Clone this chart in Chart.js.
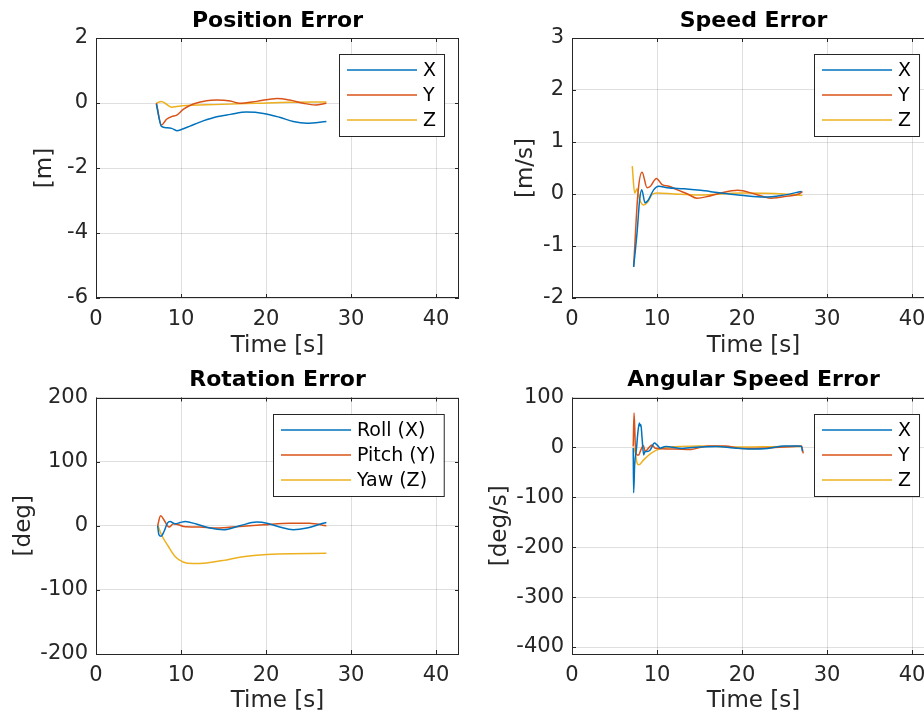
<!DOCTYPE html>
<html>
<head>
<meta charset="utf-8">
<title>Error plots</title>
<script src="https://cdn.jsdelivr.net/npm/chart.js@4.4.1/dist/chart.umd.min.js"></script>
<style>
  html, body { margin: 0; padding: 0; background: #fff; overflow: hidden; }
  #wrap { position: relative; width: 924px; height: 718px; overflow: hidden; }
  canvas { position: absolute; }
</style>
</head>
<body>
<div id="wrap">
  <canvas id="posChart" width="470" height="362" style="left:0;top:0"></canvas>
  <canvas id="spdChart" width="480" height="362" style="left:470px;top:0"></canvas>
  <canvas id="rotChart" width="470" height="358" style="left:0;top:360px"></canvas>
  <canvas id="angChart" width="480" height="358" style="left:470px;top:360px"></canvas>
</div>
<script>
// Series colours (MATLAB default order)
const colX = "#0072BD";
const colY = "#D95319";
const colZ = "#EDB120";

// Position Error [m]
const posT_X = [7.1, 7.7, 8.3, 8.9, 9.5, 10.1, 11.05, 12.6, 14.2, 15.8, 17.7, 19.7, 21.6, 23.2, 24.8, 27.1];
const posX   = [-0.03, -0.72, -0.76, -0.78, -0.85, -0.81, -0.71, -0.55, -0.42, -0.35, -0.28, -0.32, -0.44, -0.57, -0.62, -0.57];
const posT_Y = [7.1, 7.7, 8.3, 8.9, 9.5, 10.3, 11.45, 13.0, 14.2, 15.8, 16.9, 18.9, 21.3, 22.8, 24.4, 25.8, 27.1];
const posY   = [0.0, -0.68, -0.50, -0.42, -0.37, -0.19, -0.03, 0.07, 0.09, 0.06, -0.01, 0.05, 0.14, 0.09, -0.01, -0.06, -0.01];
const posT_Z = [7.1, 7.7, 8.25, 8.9, 9.5, 10.7, 13.9, 18.9, 22.8, 27.1];
const posZ   = [0.0, 0.05, -0.03, -0.13, -0.11, -0.08, -0.05, -0.01, 0.02, 0.03];

// Speed Error [m/s]
const spdT_X = [7.25, 7.65, 7.96, 8.2, 8.6, 9.0, 9.6, 10.2, 11.2, 13.2, 15.1, 17.1, 20.2, 22.6, 24.6, 27.0];
const spdX   = [-1.40, -0.75, -0.11, 0.08, -0.17, -0.11, 0.08, 0.15, 0.12, 0.10, 0.07, 0.03, -0.03, -0.06, -0.03, 0.05];
const spdT_Y = [7.25, 7.76, 8.24, 8.83, 9.22, 9.93, 10.6, 11.4, 12.4, 13.6, 14.7, 15.9, 17.5, 19.5, 21.5, 23.4, 25.0, 27.0, 27.1];
const spdY   = [-1.40, 0.02, 0.42, 0.12, 0.15, 0.30, 0.18, 0.15, 0.08, 0.0, -0.08, -0.05, 0.02, 0.07, 0.0, -0.08, -0.05, 0.03, 0.05];
const spdT_Z = [7.09, 7.37, 7.65, 7.96, 8.43, 8.83, 9.42, 10.0, 12.0, 15.0, 20.0, 25.0, 27.1];
const spdZ   = [0.535, 0.02, 0.10, -0.11, -0.21, -0.17, -0.01, 0.02, 0.0, -0.02, 0.02, 0.0, -0.03];

// Rotation Error [deg]
const rotT_X = [7.25, 7.4, 7.65, 8.0, 8.4, 8.7, 9.3, 9.9, 10.5, 11.8, 13.4, 15.0, 16.9, 18.9, 20.1, 21.6, 23.2, 24.8, 26.4, 27.1];
const rotX   = [0, -14, -16.5, -9, 4, 6.7, 3, 5, 6.7, 2.6, -3.6, -6.2, 0, 5.7, 4, -2, -6.2, -3.6, 2.6, 5];
const rotT_Y = [7.25, 7.6, 8.0, 8.4, 8.6, 9.1, 9.7, 10.3, 12.2, 14.2, 16.9, 19.7, 22.8, 25.1, 27.1];
const rotY   = [0, 15.5, 9, 0, -2, 3, 1.5, -1, -2, -3.6, -1, 1.5, 4, 4, 0];
const rotT_Z = [7.25, 7.7, 8.5, 9.3, 10.3, 11.4, 13.0, 15.0, 16.9, 18.9, 21.3, 27.1];
const rotZ   = [1.5, -14, -32, -48, -57, -59, -58, -54, -49, -46, -44, -43];

// Angular Speed Error [deg/s]
const angT_X = [7.2, 7.25, 7.37, 7.6, 7.72, 7.92, 8.0, 8.1, 8.24, 8.43, 8.6, 8.83, 9.2, 9.7, 10.0, 10.4, 11.0, 13, 15, 17, 19, 21, 23, 25, 26.5, 27.0, 27.1];
const angX   = [-1, -91, -35, 0, 25, 49, 43, 46, 19, -15, -8, -8, -5, 9, 5, -1.5, 2, -2, 1, 2, -1, -3, -2, 3, 3, 2, -8];
const angT_Y = [7.2, 7.3, 7.45, 7.65, 7.85, 8.1, 8.4, 8.6, 9.0, 9.4, 9.8, 12, 14, 16, 18, 20, 23, 26, 27.0, 27.2];
const angY   = [2, 69, 5, -15, -15, -5, 4, -8, -1.5, 5, -1.5, -3, -4, 3, 3, -2, -1, 2, 3, -12];
const angT_Z = [7.25, 7.4, 7.65, 7.85, 8.43, 9.2, 10.0, 11.2, 15, 20, 25, 27.0];
const angZ   = [0, -8, -31, -35, -25, -13, -5, 0, 3, 1, 2, 2];

const FONT = "'DejaVu Sans', sans-serif";
const INK = "#262626";

// draws the full axes box with inward tick marks (MATLAB look)
const boxPlugin = {
  id: "matlabBox",
  afterDatasetsDraw(chart) {
    const { ctx, chartArea: a, scales } = chart;
    ctx.save();
    ctx.strokeStyle = INK;
    ctx.lineWidth = 1;
    ctx.strokeRect(Math.round(a.left) + 0.5, Math.round(a.top) + 0.5,
                   Math.round(a.right - a.left) - 1, Math.round(a.bottom - a.top) - 1);
    ctx.beginPath();
    scales.x.ticks.forEach(t => {
      const px = Math.round(scales.x.getPixelForValue(t.value)) + 0.5;
      ctx.moveTo(px, a.bottom); ctx.lineTo(px, a.bottom - 4);
      ctx.moveTo(px, a.top); ctx.lineTo(px, a.top + 4);
    });
    scales.y.ticks.forEach(t => {
      const py = Math.round(scales.y.getPixelForValue(t.value)) + 0.5;
      ctx.moveTo(a.left, py); ctx.lineTo(a.left + 4, py);
      ctx.moveTo(a.right, py); ctx.lineTo(a.right - 4, py);
    });
    ctx.stroke();
    ctx.restore();
  }
};

// bold title centred over the axes, not the whole canvas
const axTitlePlugin = {
  id: "axTitle",
  afterDraw(chart) {
    const { ctx, chartArea: a } = chart;
    const opt = chart.options.plugins.axTitle;
    ctx.save();
    ctx.font = "bold 22px " + FONT;
    ctx.fillStyle = "#000";
    ctx.textAlign = "center";
    ctx.textBaseline = "middle";
    ctx.fillText(opt.text, (a.left + a.right) / 2, opt.y);
    ctx.restore();
  }
};

// legend box inside the axes, top right
const legendPlugin = {
  id: "boxLegend",
  afterDraw(chart) {
    const { ctx, chartArea: a } = chart;
    const opt = chart.options.plugins.boxLegend;
    const sets = chart.data.datasets;
    ctx.save();
    ctx.font = "19px " + FONT;
    const textW = Math.max(...sets.map(d => ctx.measureText(d.label).width));
    const lineLen = 70, pad = 8, gap = 6, rowH = 25;
    const w = pad + lineLen + gap + textW + pad;
    const h = 16 * 2 + rowH * (sets.length - 1);
    const x0 = Math.round(a.right - opt.right - w);
    const y0 = Math.round(a.top + opt.top);
    ctx.fillStyle = "#fff";
    ctx.fillRect(x0, y0, w, h);
    ctx.strokeStyle = INK;
    ctx.lineWidth = 1;
    ctx.strokeRect(x0 + 0.5, y0 + 0.5, w, h);
    sets.forEach((d, i) => {
      const cy = y0 + 16 + i * rowH;
      ctx.strokeStyle = d.borderColor;
      ctx.lineWidth = 1.5;
      ctx.beginPath();
      ctx.moveTo(x0 + pad, cy);
      ctx.lineTo(x0 + pad + lineLen, cy);
      ctx.stroke();
      ctx.fillStyle = "#000";
      ctx.textBaseline = "middle";
      ctx.fillText(d.label, x0 + pad + lineLen + gap, cy + 1);
    });
    ctx.restore();
  }
};

function series(label, ts, vs, color) {
  return {
    label: label,
    data: ts.map((t, i) => ({ x: t, y: vs[i] })),
    borderColor: color,
    borderWidth: 1.5,
    pointRadius: 0,
    fill: false,
    cubicInterpolationMode: "monotone"
  };
}

function makePanel(id, cfg) {
  return new Chart(document.getElementById(id), {
    type: "line",
    data: { datasets: cfg.datasets },
    plugins: [boxPlugin, axTitlePlugin, legendPlugin],
    options: {
      responsive: false,
      animation: false,
      devicePixelRatio: 1,
      layout: { padding: { left: cfg.padLeft, right: cfg.padRight, top: cfg.padTop, bottom: 0 } },
      plugins: {
        legend: { display: false },
        tooltip: { enabled: false },
        title: { display: false },
        axTitle: { text: cfg.title, y: cfg.titleY },
        boxLegend: { right: cfg.legRight, top: 16 }
      },
      scales: {
        x: {
          type: "linear",
          min: 0,
          max: 42.7,
          afterFit: s => { s.height = cfg.xHeight; },
          ticks: {
            stepSize: 10,
            includeBounds: false,
            color: INK,
            padding: 9,
            maxRotation: 0,
            font: { family: FONT, size: 21 }
          },
          grid: { color: "rgba(38,38,38,0.15)", drawTicks: false },
          border: { display: false },
          title: {
            display: true,
            text: "Time [s]",
            color: INK,
            padding: { top: 0, bottom: cfg.xTitleBottom },
            font: { family: FONT, size: 23, lineHeight: 1.2 }
          }
        },
        y: {
          type: "linear",
          min: cfg.yMin,
          max: cfg.yMax,
          afterFit: s => { s.width = cfg.yWidth; },
          ticks: {
            stepSize: cfg.yStep,
            includeBounds: false,
            color: INK,
            padding: 8,
            font: { family: FONT, size: 21 }
          },
          grid: { color: "rgba(38,38,38,0.15)", drawTicks: false },
          border: { display: false },
          title: {
            display: true,
            text: cfg.yLabel,
            color: INK,
            padding: { top: 0, bottom: 0 },
            font: { family: FONT, size: 23, lineHeight: 1.2 }
          }
        }
      }
    }
  });
}

makePanel("posChart", {
  title: "Position Error", yLabel: "[m]",
  yMin: -6, yMax: 2, yStep: 2,
  padLeft: 31, yWidth: 65, padRight: 11, padTop: 38,
  titleY: 21, xHeight: 64, xTitleBottom: 2, legRight: 15,
  datasets: [series("X", posT_X, posX, colX), series("Y", posT_Y, posY, colY), series("Z", posT_Z, posZ, colZ)]
});

makePanel("spdChart", {
  title: "Speed Error", yLabel: "[m/s]",
  yMin: -2, yMax: 3, yStep: 1,
  padLeft: 42, yWidth: 60, padRight: 15, padTop: 38,
  titleY: 21, xHeight: 64, xTitleBottom: 2, legRight: 16,
  datasets: [series("X", spdT_X, spdX, colX), series("Y", spdT_Y, spdY, colY), series("Z", spdT_Z, spdZ, colZ)]
});

makePanel("rotChart", {
  title: "Rotation Error", yLabel: "[deg]",
  yMin: -200, yMax: 200, yStep: 100,
  padLeft: 10, yWidth: 86, padRight: 11, padTop: 37.5,
  titleY: 20, xHeight: 64, xTitleBottom: 3, legRight: 15,
  datasets: [series("Roll (X)", rotT_X, rotX, colX), series("Pitch (Y)", rotT_Y, rotY, colY), series("Yaw (Z)", rotT_Z, rotZ, colZ)]
});

makePanel("angChart", {
  title: "Angular Speed Error", yLabel: "[deg/s]",
  yMin: -414, yMax: 100, yStep: 100,
  padLeft: 16, yWidth: 86, padRight: 15, padTop: 37.5,
  titleY: 20, xHeight: 64, xTitleBottom: 3, legRight: 16,
  datasets: [series("X", angT_X, angX, colX), series("Y", angT_Y, angY, colY), series("Z", angT_Z, angZ, colZ)]
});
</script>
</body>
</html>
